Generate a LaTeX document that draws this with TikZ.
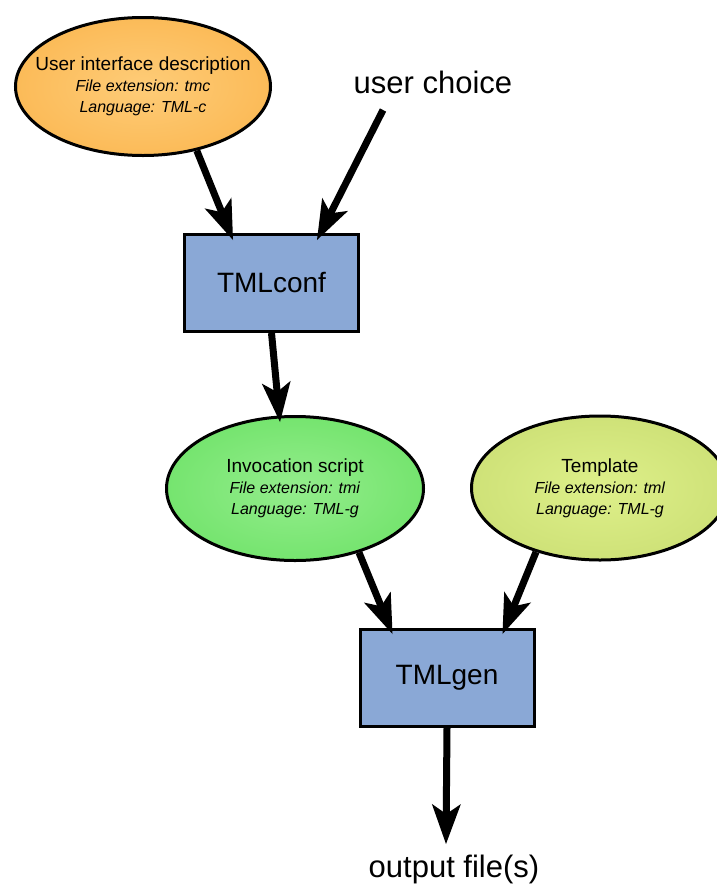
\documentclass[tikz,border=0pt]{standalone}
\usepackage{fontspec}
\setmainfont{Liberation Sans}
\usetikzlibrary{arrows.meta,calc,shapes.geometric}
\definecolor{boxblue}{HTML}{8AA8D6}
\pgfdeclareradialshading{orangesh}{\pgfpointorigin}{rgb(0bp)=(0.996,0.80,0.47); rgb(50bp)=(0.975,0.665,0.22)}
\pgfdeclareradialshading{greensh}{\pgfpointorigin}{rgb(0bp)=(0.58,0.93,0.55); rgb(50bp)=(0.34,0.86,0.32)}
\pgfdeclareradialshading{yellowsh}{\pgfpointorigin}{rgb(0bp)=(0.87,0.94,0.54); rgb(50bp)=(0.75,0.83,0.40)}
\begin{document}
\begin{tikzpicture}[x=1pt,y=-1pt,
  ell/.style={ellipse, draw, line width=3pt, inner sep=0pt, minimum width=256pt,
    minimum height=140pt, align=center, font=\fontsize{16}{21}\selectfont},
  box/.style={rectangle, draw, line width=3pt, fill=boxblue, minimum width=174pt,
    minimum height=97pt, inner sep=0pt, font=\fontsize{28}{32}\selectfont},
  arr/.style={line width=7pt, -{Stealth[length=40pt,width=29pt,inset=10pt,line width=0pt]}},
  big/.style={font=\fontsize{31}{36}\selectfont, inner sep=0pt, anchor=base}]
\useasboundingbox (0,0) rectangle (717,884);

% nodes
\node[ell, shading=orangesh, minimum width=255pt, minimum height=138pt, inner xsep=-30pt] (uid) at (143,86.5)
  {{\fontsize{19}{21}\selectfont User interface description}\\
   \textit{File extension: tmc}\\ \textit{Language: TML-c}};
\node[big] (uc) at (433,93) {user choice};
\node[box] (conf) at (271.5,283) {TMLconf};
\node[ell, shading=greensh, minimum width=257pt, minimum height=144pt] (inv) at (295,488.5)
  {{\fontsize{19}{21}\selectfont Invocation script}\\
   \textit{File extension: tmi}\\ \textit{Language: TML-g}};
\node[ell, shading=yellowsh, minimum width=257pt, minimum height=144pt] (tmpl) at (600,488)
  {{\fontsize{19}{21}\selectfont Template}\\
   \textit{File extension: tml}\\ \textit{Language: TML-g}};
\node[box] (gen) at (447,678) {TMLgen};
\node[big] (out) at (454,877) {output file(s)};

% connector ends
\coordinate (ucstart) at (383,110);
\coordinate (outtip) at ($(gen.south)+(-1,116)$);

% connectors
\draw[arr] (uid.-50) -- ($(conf.north west)+(50,7)$);
\draw[arr] (ucstart) -- ($(conf.north east)+(-43,7)$);
\draw[arr] (conf.south) -- ($(inv.north)+(-15,7)$);
\draw[arr] (inv.-45) -- ($(gen.north west)+(34,6)$);
\draw[arr] (tmpl.-135) -- ($(gen.north east)+(-33,6)$);
\draw[arr] (gen.south) -- (outtip);
\end{tikzpicture}
\end{document}
